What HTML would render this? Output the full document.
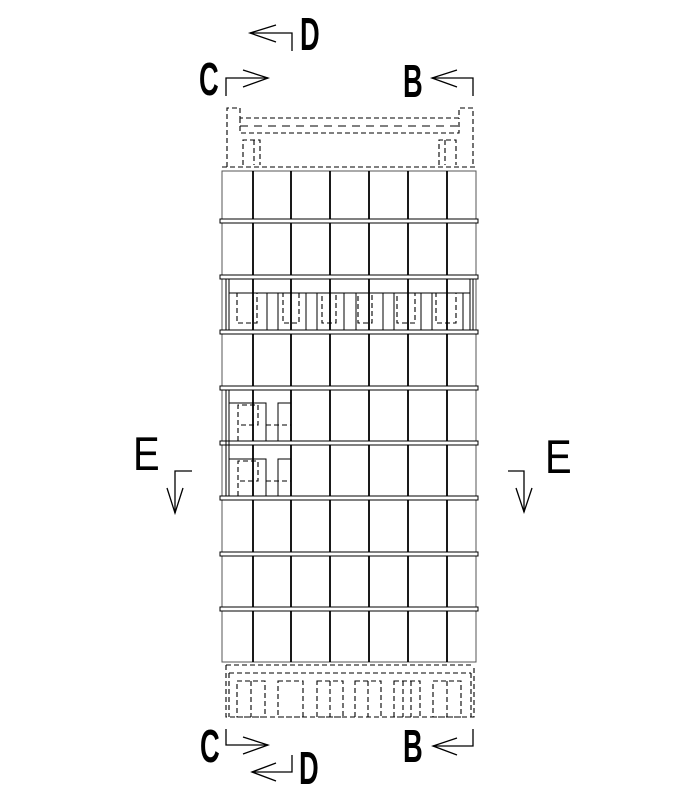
<!DOCTYPE html>
<html><head><meta charset="utf-8"><style>
html,body{margin:0;padding:0;background:#fff;}
svg{display:block;}
.t{font-family:"Liberation Sans",sans-serif;font-weight:bold;}
.e{font-family:"Liberation Sans",sans-serif;}
</style></head><body>
<svg width="700" height="800" viewBox="0 0 700 800" xmlns="http://www.w3.org/2000/svg">
<g fill="none" stroke="#000" stroke-width="1.3">
<polyline points="292,51 292,33 250,33"/><polyline points="276,25 250,33 276,42"/>
<polyline points="226,96 226,78 268,78"/><polyline points="243,70 268,78 243,87"/>
<polyline points="473,96 473,78 432,78"/><polyline points="457,70 432,78 457,87"/>
<polyline points="226,729 226,745 268,745"/><polyline points="243,737 268,745 243,754"/>
<polyline points="292,755 292,772 252,772"/><polyline points="276,763 252,772 276,781"/>
<polyline points="473,729 473,746 433,746"/><polyline points="457,738 433,746 457,755"/>
<polyline points="192,471 175,471 175,513"/><polyline points="167,488 175,513 183,488"/>
<polyline points="508,471 524,471 524,512"/><polyline points="516,488 524,512 532,488"/>
</g>
<g class="t" font-size="44">
<text x="0" y="0" transform="translate(300,50) scale(0.62,1.05)">D</text>
<text x="0" y="0" transform="translate(199,95) scale(0.62,1.05)">C</text>
<text x="0" y="0" transform="translate(403,97) scale(0.62,1.05)">B</text>
<text x="0" y="0" transform="translate(200,762) scale(0.62,1.05)">C</text>
<text x="0" y="0" transform="translate(299,784) scale(0.62,1.05)">D</text>
<text x="0" y="0" transform="translate(403,762) scale(0.62,1.05)">B</text>
</g>
<text class="e" x="133" y="470" font-size="47" transform="translate(133,470) scale(0.85,1) translate(-133,-470)">E</text>
<text class="e" x="545" y="473" font-size="47" transform="translate(545,473) scale(0.85,1) translate(-545,-473)">E</text>

<g fill="none" stroke="#000" stroke-width="1.1" stroke-dasharray="5,3">
<polyline points="227,167 227,108 240,108 240,118 459,118 459,108 473,108 473,167"/>
<polyline points="240,118 240,133 459,133 459,118"/>
<line x1="222" y1="167" x2="477" y2="167"/>
<polyline points="243,165 243,140 260,140 260,165"/><line x1="254" y1="140" x2="254" y2="165"/>
<polyline points="439,165 439,140 456,140 456,165"/><line x1="445" y1="140" x2="445" y2="165"/>
<line x1="240" y1="126" x2="459" y2="126" stroke-dasharray="8,6"/>
</g>
<g fill="none" stroke="#000" stroke-width="1.1" stroke-dasharray="5,3">
<polyline points="226,665 474,665"/>
<polyline points="226,665 226,717 474,717 474,665"/>
<polyline points="229,673 229,717"/><polyline points="471,673 471,717"/>
<line x1="229" y1="673" x2="471" y2="673"/>
<rect x="237" y="681" width="28" height="36"/><line x1="251" y1="681" x2="251" y2="717"/>
<rect x="278" y="681" width="25" height="36"/>
<rect x="317" y="681" width="26" height="36"/><line x1="330" y1="681" x2="330" y2="717"/>
<rect x="355" y="681" width="26" height="36"/><line x1="368" y1="681" x2="368" y2="717"/>
<rect x="394" y="681" width="26" height="36"/><line x1="403" y1="681" x2="403" y2="717"/><line x1="411" y1="681" x2="411" y2="717"/>
<rect x="433" y="681" width="28" height="36"/><line x1="447" y1="681" x2="447" y2="717"/>
</g>

<g fill="none" stroke="#000" stroke-width="1">
<rect x="222" y="171" width="254" height="491" stroke="#555"/>
</g>
<g stroke="#000" stroke-width="1.8">
<line x1="253" y1="171" x2="253" y2="662"/><line x1="291" y1="171" x2="291" y2="662"/>
<line x1="330" y1="171" x2="330" y2="662"/><line x1="369" y1="171" x2="369" y2="662"/>
<line x1="408" y1="171" x2="408" y2="662"/><line x1="447" y1="171" x2="447" y2="662"/>
</g>
<g fill="#fff" stroke="#000" stroke-width="1">
<rect x="220" y="219" width="258" height="4"/>
<rect x="220" y="275" width="258" height="4"/>
<rect x="220" y="330" width="258" height="4"/>
<rect x="220" y="386" width="258" height="4"/>
<rect x="220" y="441" width="258" height="4"/>
<rect x="220" y="496" width="258" height="4"/>
<rect x="220" y="552" width="258" height="4"/>
<rect x="220" y="607" width="258" height="4"/>
</g>
<g fill="none" stroke="#000" stroke-width="1">
<line x1="226" y1="279" x2="226" y2="330"/><line x1="229" y1="279" x2="229" y2="330"/>
<line x1="470" y1="279" x2="470" y2="330"/><line x1="473" y1="279" x2="473" y2="330"/>
<line x1="229" y1="293" x2="470" y2="293"/>
<rect x="229" y="293" width="38" height="37"/><rect x="278" y="293" width="28" height="37"/>
<rect x="317" y="293" width="27" height="37"/><rect x="356" y="293" width="27" height="37"/>
<rect x="394" y="293" width="27" height="37"/><rect x="432" y="293" width="31" height="37"/>
</g>
<g fill="none" stroke="#000" stroke-width="1.1" stroke-dasharray="5,3">
<rect x="237" y="293" width="20" height="30"/><rect x="283" y="293" width="16" height="30"/>
<rect x="322" y="293" width="14" height="30"/><rect x="358" y="293" width="14" height="30"/>
<rect x="397" y="293" width="18" height="30"/><rect x="436" y="293" width="20" height="30"/>
</g>
<g fill="none" stroke="#000" stroke-width="1">
<line x1="226" y1="390" x2="226" y2="496"/><line x1="229" y1="390" x2="229" y2="496"/>
<rect x="229" y="403" width="37" height="38"/><rect x="278" y="403" width="13" height="38"/>
<rect x="229" y="459" width="37" height="37"/><rect x="278" y="459" width="13" height="37"/>
</g>
<g fill="none" stroke="#000" stroke-width="1.1" stroke-dasharray="5,3">
<polyline points="238,441 238,405 258,405 258,425 238,425"/><line x1="266" y1="425" x2="291" y2="425"/>
<polyline points="238,496 238,461 258,461 258,481 238,481"/><line x1="266" y1="481" x2="291" y2="481"/>
</g>
</svg>
</body></html>
